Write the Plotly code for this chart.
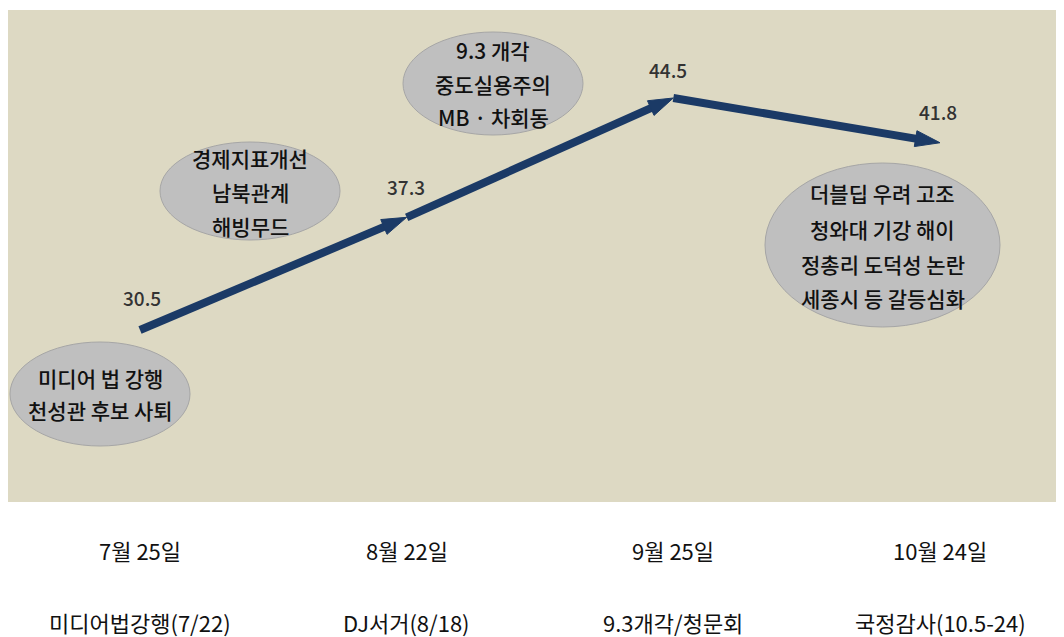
import plotly.graph_objects as go

# ---- data ----
dates = ["7월 25일", "8월 22일", "9월 25일", "10월 24일"]
events = ["미디어법강행(7/22)", "DJ서거(8/18)", "9.3개각/청문회", "국정감사(10.5-24)"]
values = [30.5, 37.3, 44.5, 41.8]
value_labels = ["30.5", "37.3", "44.5", "41.8"]
bubble_texts = [
    ["미디어 법 강행", "천성관 후보 사퇴"],
    ["경제지표개선", "남북관계", "해빙무드"],
    ["9.3 개각", "중도실용주의", "MB · 차회동"],
    ["더블딥 우려 고조", "청와대 기강 해이", "정총리 도덕성 논란", "세종시 등 갈등심화"],
]

# ---- layout helpers (reference pixel -> paper); page has an 8px body margin ----
OFF = 8
W, H = 1064 - OFF, 637 - OFF
L, R, T, B = 0, 0, 2, 135
PW, PH = W - L - R, H - T - B

def px(x):
    return (x - OFF - L) / PW

def py(y):
    return (H - B - (y - OFF)) / PH

FONT = "Noto Sans CJK KR"
NAVY = "#1B3A66"

fig = go.Figure()
fig.add_trace(go.Scatter(
    x=dates, y=values, mode="lines+markers",
    line=dict(color=NAVY, width=8),
    marker=dict(symbol=["circle", "arrow", "arrow", "arrow"],
                size=[8, 26, 26, 26], angleref="previous", color=NAVY,
                opacity=1, line=dict(width=1, color=NAVY)),
    hoverinfo="skip", showlegend=False,
))

# value labels
offsets = [(2, 32), (-1, 31), (-5, 28), (-2, 31)]
for d, v, t, (dx, dy) in zip(dates, values, value_labels, offsets):
    fig.add_annotation(x=d, y=v, text=t, showarrow=False, xshift=dx, yshift=dy,
                       font=dict(family=FONT, size=19, color="#333333", weight=500))

# bubbles
ellipses = [
    (10, 342, 190, 446),
    (160, 142, 340, 240),
    (403, 32, 583, 135),
    (765, 163, 1000, 327),
]
line_ys = [
    [378, 410],
    [158, 192, 226],
    [50, 84, 117],
    [193, 229, 264, 298],
]
for (x0, y0, x1, y1), lines, ys in zip(ellipses, bubble_texts, line_ys):
    fig.add_shape(type="circle", xref="paper", yref="paper",
                  x0=px(x0), x1=px(x1), y0=py(y1), y1=py(y0),
                  fillcolor="#BFBFBF", line=dict(color="#A6A6A6", width=1), layer="above")
    cx = (x0 + x1) / 2
    for txt, yy in zip(lines, ys):
        fig.add_annotation(xref="paper", yref="paper", x=px(cx), y=py(yy),
                           text=txt, showarrow=False, xanchor="center", yanchor="middle",
                           font=dict(family=FONT, size=21, color="#111111", weight=500))

# bottom rows
for d, e in zip(dates, events):
    fig.add_annotation(x=d, yref="paper", y=py(550), text=d, showarrow=False,
                       yanchor="middle", font=dict(family=FONT, size=22, color="#111111"))
    fig.add_annotation(x=d, yref="paper", y=py(622), text=e, showarrow=False,
                       yanchor="middle", font=dict(family=FONT, size=22, color="#111111"))

fig.update_layout(
    width=W, height=H,
    margin=dict(l=L, r=R, t=T, b=B),
    paper_bgcolor="white", plot_bgcolor="#DDD9C3",
    xaxis=dict(type="category", range=[-0.495, 3.465], showgrid=False,
               showticklabels=False, zeroline=False, showline=False, ticks=""),
    yaxis=dict(range=[20.12, 49.81], showgrid=False, showticklabels=False,
               zeroline=False, showline=False, ticks=""),
)

fig.write_html("out.html")
